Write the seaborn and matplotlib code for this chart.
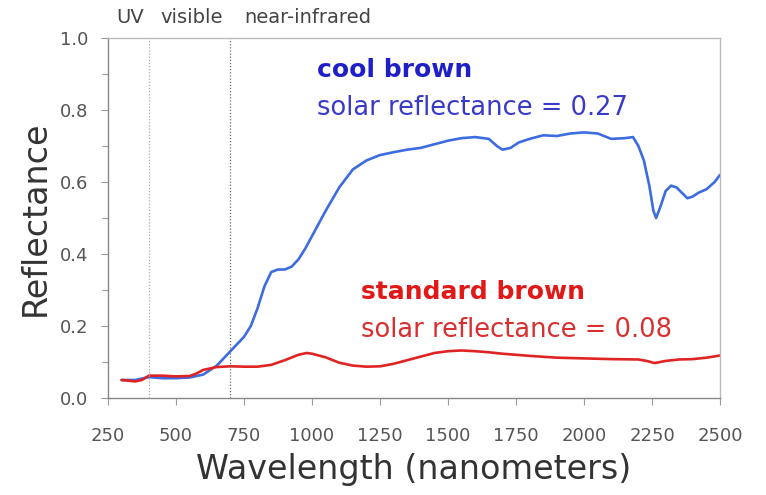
import pandas as pd
import seaborn as sns
import matplotlib.pyplot as plt
import numpy as np
from matplotlib.ticker import MultipleLocator

# spectra
cool_wl = [300, 350, 400, 450, 500, 550, 600, 650, 700, 750, 775, 800, 825, 850, 875, 900,
           925, 950, 975, 1000, 1050, 1100, 1150, 1200, 1250, 1300, 1350, 1400, 1450, 1500,
           1550, 1600, 1650, 1680, 1700, 1730, 1760, 1800, 1850, 1900, 1950, 2000, 2050,
           2100, 2150, 2180, 2200, 2220, 2240, 2255, 2265, 2280, 2300, 2320, 2340, 2360,
           2380, 2400, 2420, 2450, 2480, 2500]
cool_refl = [0.05, 0.05, 0.058, 0.055, 0.055, 0.057, 0.065, 0.09, 0.13, 0.17, 0.20, 0.25,
             0.31, 0.35, 0.357, 0.357, 0.365, 0.385, 0.415, 0.45, 0.52, 0.585, 0.635, 0.66,
             0.675, 0.683, 0.69, 0.695, 0.705, 0.715, 0.722, 0.725, 0.72, 0.70, 0.69, 0.695,
             0.71, 0.72, 0.73, 0.728, 0.735, 0.738, 0.735, 0.72, 0.722, 0.725, 0.70, 0.66,
             0.59, 0.52, 0.50, 0.53, 0.575, 0.59, 0.585, 0.57, 0.555, 0.56, 0.57, 0.58,
             0.60, 0.62]

std_wl = [300, 325, 350, 375, 400, 450, 500, 550, 575, 600, 650, 700, 750, 800, 850, 900,
          950, 980, 1000, 1050, 1100, 1150, 1200, 1250, 1300, 1350, 1400, 1450, 1500, 1550,
          1600, 1650, 1700, 1800, 1900, 2000, 2100, 2200, 2230, 2260, 2300, 2350, 2400,
          2450, 2500]
std_refl = [0.05, 0.048, 0.046, 0.05, 0.062, 0.062, 0.06, 0.061, 0.068, 0.078, 0.086, 0.088,
            0.087, 0.087, 0.092, 0.105, 0.12, 0.125, 0.123, 0.113, 0.098, 0.09, 0.087, 0.088,
            0.095, 0.105, 0.115, 0.125, 0.13, 0.132, 0.13, 0.127, 0.123, 0.117, 0.112, 0.11,
            0.108, 0.107, 0.103, 0.097, 0.103, 0.107, 0.108, 0.112, 0.118]

band_edges = [400, 700]
band_names = ["UV", "visible", "near-infrared"]
band_label_x = [331, 559, 985]

df = pd.concat([
    pd.DataFrame({"wavelength": cool_wl, "reflectance": cool_refl, "sample": "cool brown"}),
    pd.DataFrame({"wavelength": std_wl, "reflectance": std_refl, "sample": "standard brown"}),
])

sns.set_style("ticks")
plt.rcParams['font.family'] = ['DejaVu Sans']

fig = plt.figure(figsize=(7.66, 4.95), dpi=100)
ax = fig.add_axes([0.141, 0.196, 0.799, 0.727])

sns.lineplot(data=df, x="wavelength", y="reflectance", hue="sample",
             palette={"cool brown": "#3d6be0", "standard brown": "#e02424"},
             linewidth=1.9, legend=False, ax=ax)

ax.axvline(band_edges[0], color="#aaaaaa", linestyle=(0, (1, 1.5)), linewidth=0.9)
ax.axvline(band_edges[1], color="#666666", linestyle=(0, (1, 1.5)), linewidth=0.9)

ax.set_xlim(250, 2500)
ax.set_ylim(0, 1.0)
ax.set_xticks(np.arange(250, 2501, 250))
ax.yaxis.set_major_locator(MultipleLocator(0.2))
ax.yaxis.set_minor_locator(MultipleLocator(0.1))
ax.yaxis.set_major_formatter(plt.FormatStrFormatter("%.1f"))
ax.tick_params(axis="both", which="both", direction="out", colors="#999999",
               labelcolor="#555555", labelsize=13, width=0.8)
ax.tick_params(axis="both", which="major", length=5)
ax.tick_params(axis="y", which="minor", length=4)
ax.tick_params(axis="x", pad=16)
ax.tick_params(axis="y", pad=9)

for side in ["top", "right"]:
    ax.spines[side].set_color("#bbbbbb")
for side in ["left", "bottom"]:
    ax.spines[side].set_color("#888888")
for s in ax.spines.values():
    s.set_linewidth(1.0)

ax.set_xlabel("Wavelength (nanometers)", fontsize=24, color="#333333", labelpad=6)
ax.set_ylabel("Reflectance", fontsize=24, color="#333333", labelpad=6)

# spectral band labels above the axes
for name, x in zip(band_names, band_label_x):
    ax.text(x, 1.056, name, fontsize=14, color="#444444", ha="center", va="center")

ax.text(1018, 0.911, "cool brown", fontsize=18, fontweight="bold", color="#1f1fc8", va="center")
ax.text(1018, 0.806, "solar reflectance = 0.27", fontsize=18.5, color="#3a3ac8", va="center")
ax.text(1180, 0.294, "standard brown", fontsize=18, fontweight="bold", color="#e01818", va="center")
ax.text(1180, 0.189, "solar reflectance = 0.08", fontsize=18.5, color="#d83030", va="center")

fig.savefig("out.png", dpi=100)
